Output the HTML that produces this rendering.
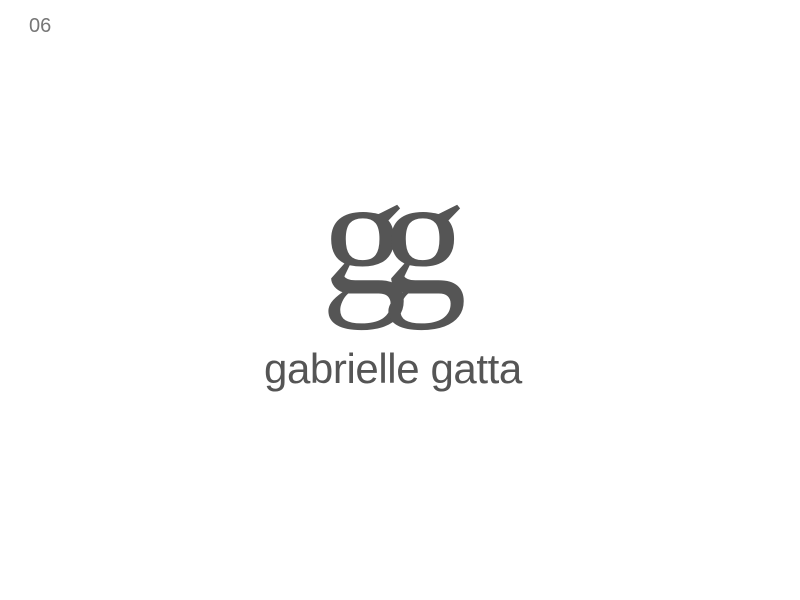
<!DOCTYPE html>
<html>
<head>
<meta charset="utf-8">
<style>
  html,body{margin:0;padding:0;background:#fff;}
  body{width:800px;height:600px;position:relative;overflow:hidden;}
  .num{position:absolute;left:29px;top:15px;font:20px "Liberation Sans",sans-serif;color:#777;}
  .mark{position:absolute;left:321px;top:150px;font-family:"Liberation Serif",serif;font-size:172px;line-height:172px;color:#555;letter-spacing:-26px;white-space:nowrap;}
  .name{position:absolute;left:264px;top:344px;font-family:"Liberation Sans",sans-serif;font-size:42px;line-height:50px;color:#555;letter-spacing:-0.4px;white-space:nowrap;}
</style>
</head>
<body>
  <div class="num">06</div>
  <div class="mark">gg</div>
  <div class="name">gabrielle gatta</div>
</body>
</html>
